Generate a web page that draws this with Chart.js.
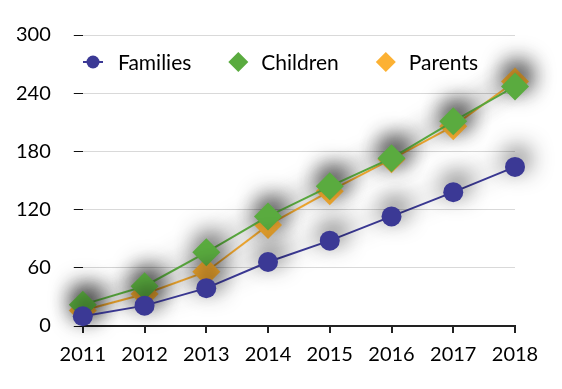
<!DOCTYPE html>
<html>
<head>
<meta charset="utf-8">
<script src="https://cdn.jsdelivr.net/npm/chart.js@4.4.0/dist/chart.umd.min.js"></script>
<style>
    html, body { margin: 0; padding: 0; background: #fff; }
    #wrap { width: 562px; height: 389px; }
</style>
</head>
<body>
<div id="wrap"><canvas id="myChart"></canvas></div>
<script>
var years = ['2011', '2012', '2013', '2014', '2015', '2016', '2017', '2018']
var families = [10, 21, 39, 66, 88, 113, 138, 164]
var children = [22, 41, 76, 113, 144, 173, 211, 247]
var parents = [16, 33, 56, 104, 139, 172, 206, 252]
var yTicks = [0, 60, 120, 180, 240, 300]

var colors = ['#3b3995', '#5aab3f', '#fcb133']
var fontFamily = 'Lato, "Noto Sans", sans-serif'

// soft drop shadow under each series (line + markers)
var seriesShadow = {
    id: 'seriesShadow',
    beforeDatasetDraw: function (chart) {
        var ctx = chart.ctx
        ctx.save()
        ctx.shadowColor = 'rgba(0, 0, 0, 0.85)'
        ctx.shadowBlur = 24
        ctx.shadowOffsetX = 3
        ctx.shadowOffsetY = -8
    },
    afterDatasetDraw: function (chart) {
        chart.ctx.restore()
    }
}

// legend drawn inside the plot, like the original
var innerLegend = {
    id: 'innerLegend',
    afterDraw: function (chart) {
        var ctx = chart.ctx
        var x = 93
        var y = 62
        ctx.save()
        ctx.font = '21px ' + fontFamily
        ctx.textBaseline = 'middle'
        ctx.textAlign = 'left'
        chart.data.datasets.forEach(function (ds, i) {
            ctx.fillStyle = ds.borderColor
            ctx.strokeStyle = ds.borderColor
            var textGap = 23
            if (ds.pointStyle === 'circle') {
                ctx.lineWidth = 2
                ctx.beginPath()
                ctx.moveTo(x - 10, y)
                ctx.lineTo(x + 10, y)
                ctx.stroke()
                Chart.helpers.drawPoint(ctx, { pointStyle: 'circle', radius: 6.5, rotation: 0, borderWidth: 0 }, x, y)
                textGap = 25
            } else {
                Chart.helpers.drawPoint(ctx, { pointStyle: 'rectRot', radius: 10, rotation: 0, borderWidth: 0 }, x, y)
            }
            ctx.fillStyle = '#000'
            ctx.fillText(ds.label, x + textGap, y + 1)
            x += textGap + ctx.measureText(ds.label).width + 47
        })
        ctx.restore()
    }
}

var ctx = document.getElementById('myChart').getContext('2d')
var myChart = new Chart(ctx, {
    type: 'line',
    data: {
        labels: years,
        datasets: [{
            label: 'Families',
            data: families,
            borderColor: colors[0],
            backgroundColor: colors[0],
            pointStyle: 'circle',
            pointRadius: 10,
            pointHoverRadius: 10,
            pointBorderWidth: 0,
            borderWidth: 2,
            tension: 0,
            clip: false
        }, {
            label: 'Children',
            data: children,
            borderColor: colors[1],
            backgroundColor: colors[1],
            pointStyle: 'rectRot',
            pointRadius: 14,
            pointHoverRadius: 14,
            pointBorderWidth: 0,
            borderWidth: 2,
            tension: 0,
            clip: false
        }, {
            label: 'Parents',
            data: parents,
            borderColor: colors[2],
            backgroundColor: colors[2],
            pointStyle: 'rectRot',
            pointRadius: 14,
            pointHoverRadius: 14,
            pointBorderWidth: 0,
            borderWidth: 2,
            tension: 0,
            clip: false
        }]
    },
    options: {
        responsive: true,
        maintainAspectRatio: false,
        animation: false,
        layout: {
            autoPadding: false,
            padding: { left: -7, right: 47, top: 33, bottom: 12 }
        },
        plugins: {
            legend: { display: false },
            tooltip: { enabled: false }
        },
        scales: {
            x: {
                offset: false,
                border: { display: true, color: '#222', width: 2 },
                grid: { drawOnChartArea: false, drawTicks: true, tickLength: 7, tickColor: '#222', lineWidth: 2 },
                ticks: { color: '#000', padding: 10, font: { family: fontFamily, size: 20 }, maxRotation: 0 }
            },
            y: {
                min: 0,
                max: 300,
                afterBuildTicks: function (axis) {
                    axis.ticks = yTicks.map(function (v) { return { value: v } })
                },
                border: { display: false },
                grid: { color: '#d9d9d9', lineWidth: 1, tickLength: 9, tickColor: '#111' },
                ticks: { color: '#000', padding: 23, font: { family: fontFamily, size: 20 } }
            }
        }
    },
    plugins: [seriesShadow, innerLegend]
});
</script>
</body>
</html>
